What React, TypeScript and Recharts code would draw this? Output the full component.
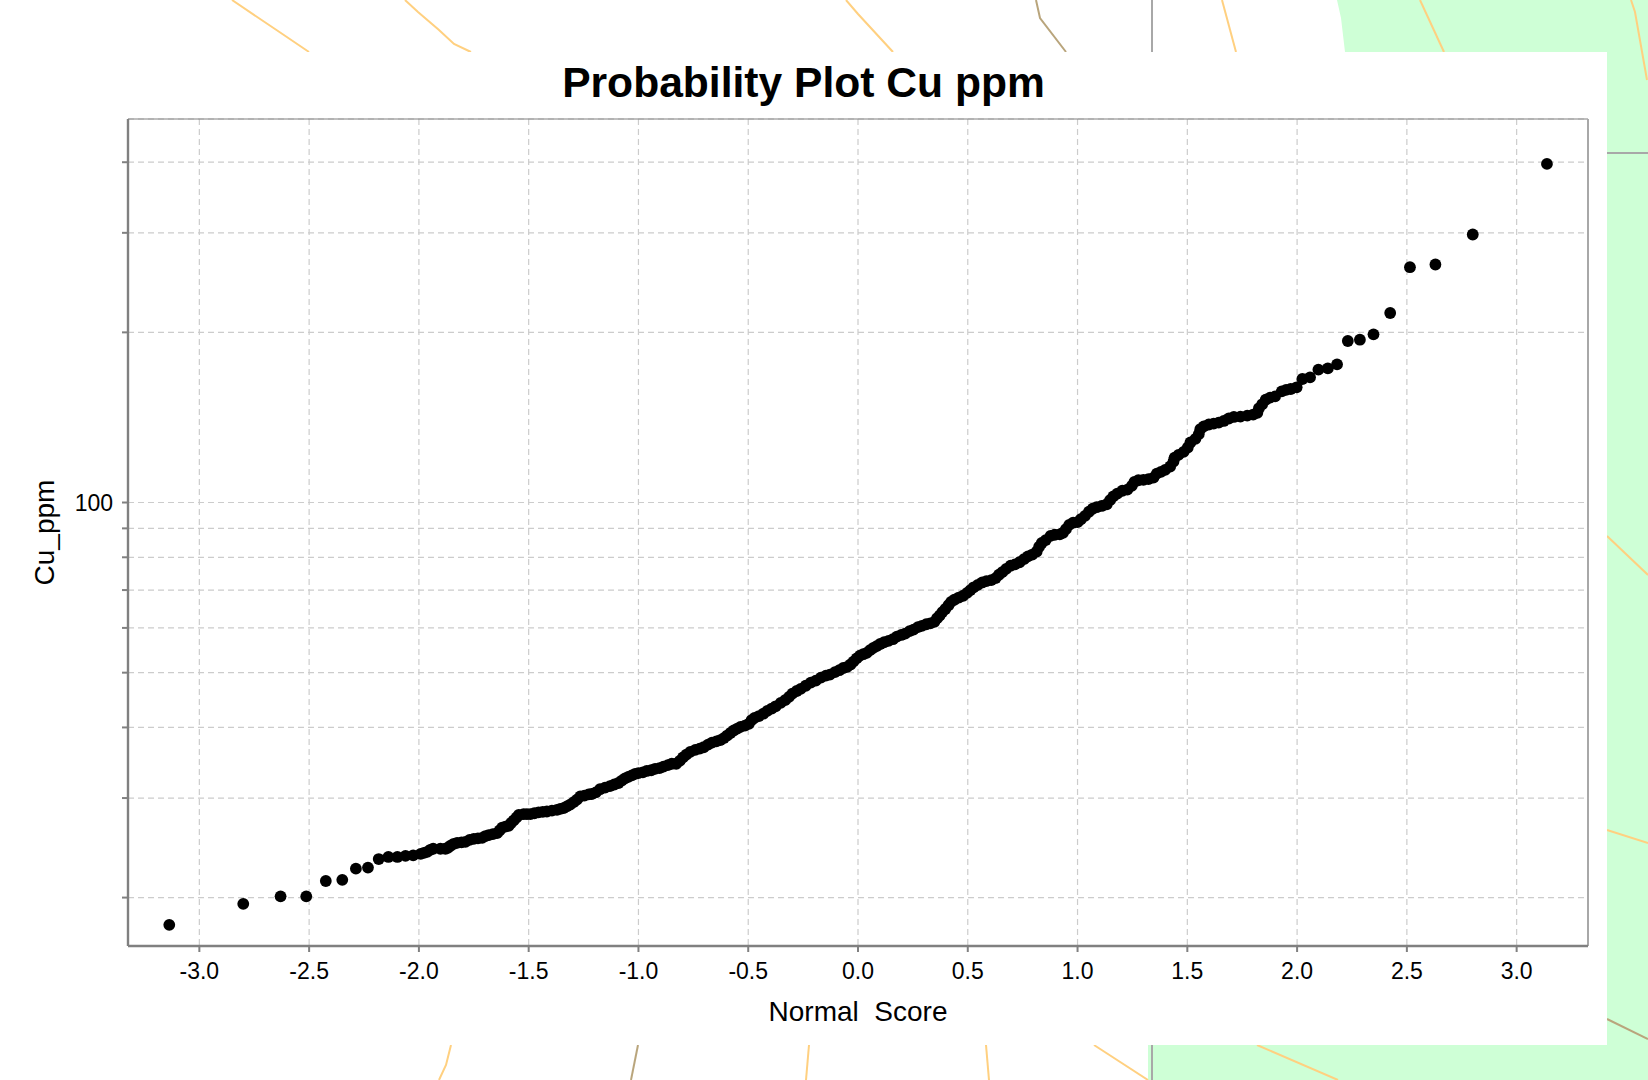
import { ScatterChart, Scatter, XAxis, YAxis, CartesianGrid, ReferenceLine } from "recharts";

const FONT = '"Liberation Sans", Arial, sans-serif';

const xTicks = [-3, -2.5, -2, -1.5, -1, -0.5, 0, 0.5, 1, 1.5, 2, 2.5, 3];
const yTicks = [20, 30, 40, 50, 60, 70, 80, 90, 100, 200, 300, 400];

const normalScores = [
  -3.137, -2.8, -2.63, -2.513, -2.424, -2.349, -2.287, -2.232, -2.183, -2.139,
  -2.098, -2.061, -2.026, -1.992, -1.977, -1.962, -1.948, -1.935, -1.902, -1.879,
  -1.868, -1.856, -1.841, -1.826, -1.806, -1.788, -1.769, -1.75, -1.731, -1.712,
  -1.697, -1.682, -1.663, -1.644, -1.632, -1.621, -1.606, -1.591, -1.58, -1.568,
  -1.556, -1.545, -1.523, -1.508, -1.492, -1.474, -1.455, -1.436, -1.417, -1.394,
  -1.371, -1.356, -1.341, -1.326, -1.311, -1.295, -1.28, -1.265, -1.246, -1.227,
  -1.213, -1.194, -1.175, -1.152, -1.13, -1.11, -1.091, -1.076, -1.061, -1.046,
  -1.03, -1.015, -1.0, -0.98, -0.962, -0.942, -0.924, -0.904, -0.886, -0.866,
  -0.848, -0.828, -0.812, -0.797, -0.782, -0.764, -0.741, -0.721, -0.703, -0.683,
  -0.665, -0.645, -0.627, -0.611, -0.596, -0.581, -0.566, -0.55, -0.535, -0.515,
  -0.497, -0.485, -0.471, -0.451, -0.431, -0.413, -0.393, -0.375, -0.352, -0.332,
  -0.314, -0.299, -0.279, -0.261, -0.238, -0.215, -0.192, -0.169, -0.146, -0.128,
  -0.105, -0.085, -0.067, -0.049, -0.034, -0.021, -0.006, 0.009, 0.024, 0.04,
  0.055, 0.07, 0.085, 0.101, 0.119, 0.139, 0.159, 0.177, 0.197, 0.215,
  0.235, 0.253, 0.273, 0.291, 0.311, 0.329, 0.348, 0.36, 0.372, 0.384,
  0.398, 0.412, 0.424, 0.439, 0.459, 0.479, 0.497, 0.512, 0.527, 0.546,
  0.566, 0.585, 0.607, 0.627, 0.642, 0.657, 0.675, 0.695, 0.715, 0.736,
  0.756, 0.774, 0.794, 0.814, 0.825, 0.837, 0.855, 0.877, 0.896, 0.919,
  0.934, 0.947, 0.962, 0.98, 1.0, 1.015, 1.034, 1.052, 1.069, 1.087,
  1.11, 1.133, 1.148, 1.163, 1.181, 1.204, 1.227, 1.247, 1.259, 1.277,
  1.3, 1.323, 1.346, 1.361, 1.38, 1.399, 1.422, 1.437, 1.442, 1.46,
  1.483, 1.502, 1.514, 1.537, 1.552, 1.559, 1.575, 1.598, 1.62, 1.643,
  1.666, 1.689, 1.712, 1.742, 1.773, 1.8, 1.819, 1.826, 1.841, 1.857,
  1.877, 1.9, 1.93, 1.95, 1.971, 1.998, 2.024, 2.059, 2.097, 2.14,
  2.182, 2.231, 2.286, 2.348, 2.424, 2.514, 2.63, 2.8, 3.138,
];

const cuPpm = [
  17.9, 19.5, 20.1, 20.1, 21.4, 21.5, 22.5, 22.6, 23.4, 23.6,
  23.6, 23.7, 23.75, 23.9, 24.0, 24.1, 24.3, 24.4, 24.4, 24.4,
  24.5, 24.7, 24.9, 25.0, 25.05, 25.1, 25.3, 25.4, 25.45, 25.5,
  25.7, 25.8, 25.9, 26.0, 26.3, 26.6, 26.7, 26.8, 27.1, 27.4,
  27.7, 28.0, 28.1, 28.1, 28.1, 28.2, 28.3, 28.35, 28.4, 28.5,
  28.6, 28.7, 28.8, 29.0, 29.2, 29.5, 29.8, 30.2, 30.3, 30.45,
  30.5, 30.7, 31.1, 31.3, 31.5, 31.7, 31.9, 32.2, 32.5, 32.7,
  32.9, 33.1, 33.2, 33.3, 33.5, 33.6, 33.8, 33.9, 34.1, 34.3,
  34.5, 34.5, 34.9, 35.4, 35.8, 36.2, 36.5, 36.7, 36.9, 37.3,
  37.6, 37.8, 38.0, 38.3, 38.7, 39.1, 39.5, 39.8, 40.1, 40.3,
  40.6, 41.2, 41.6, 41.9, 42.3, 42.8, 43.2, 43.6, 44.2, 44.7,
  45.3, 45.9, 46.4, 46.8, 47.4, 48.0, 48.4, 49.0, 49.4, 49.6,
  50.1, 50.5, 50.96, 51.2, 51.7, 52.3, 53.0, 53.6, 53.9, 54.2,
  54.8, 55.3, 55.7, 56.2, 56.6, 56.9, 57.3, 57.9, 58.3, 58.6,
  59.2, 59.6, 60.2, 60.5, 60.9, 61.1, 61.5, 62.4, 63.1, 64.0,
  64.8, 65.8, 66.7, 67.3, 67.9, 68.4, 69.2, 70.0, 70.8, 71.5,
  72.2, 72.6, 72.9, 73.5, 74.5, 75.3, 76.3, 77.3, 77.7, 78.4,
  79.4, 80.3, 80.9, 81.9, 83.5, 84.8, 85.8, 87.3, 87.7, 87.8,
  88.4, 89.7, 91.3, 92.1, 92.3, 93.4, 94.7, 96.3, 97.5, 98.1,
  98.6, 99.3, 100.95, 102.5, 103.7, 104.9, 105.4, 107.0, 108.8, 109.5,
  109.7, 110.0, 110.7, 112.5, 113.3, 114.2, 115.8, 118.2, 120.1, 121.4,
  122.9, 125.1, 127.7, 129.6, 132.1, 134.8, 136.4, 137.4, 137.9, 138.5,
  139.4, 140.8, 141.7, 141.9, 142.5, 143.1, 144.1, 146.8, 149.2, 152.0,
  153.3, 154.1, 157.3, 158.2, 158.8, 159.9, 165.4, 166.5, 171.8, 172.7,
  175.6, 193.1, 194.1, 198.4, 216.4, 260.8, 263.7, 298.0, 397.2,
];

const points = normalScores.map((x, i) => ({ x, y: cuPpm[i] }));

// the map sheet showing round the white plot panel
const orange = "#ffd080";
const brown = "#b9a57c";
const mapLines = [
  { c: orange, d: "M232 0 L275 29 L309 52" },
  { c: orange, d: "M405 0 L418 12 L439 30 L454 44 L471 52" },
  { c: orange, d: "M846 0 L858 14 L893 52" },
  { c: brown, d: "M1036 0 L1040 18 L1066 52" },
  { c: orange, d: "M1222 0 L1236 52" },
  { c: orange, d: "M1420 0 L1444 52" },
  { c: orange, d: "M1631 0 L1635 12 L1647 80" },
  { c: orange, d: "M1607 536 L1648 575" },
  { c: orange, d: "M1607 830 L1648 843" },
  { c: brown, d: "M1607 1019 L1648 1039" },
  { c: orange, d: "M1257 1045 L1338 1080" },
  { c: orange, d: "M1094 1045 L1148 1080" },
  { c: orange, d: "M451 1045 L446 1065 L439 1080" },
  { c: brown, d: "M638 1045 L631 1080" },
  { c: orange, d: "M809 1045 L806 1080" },
  { c: orange, d: "M986 1045 L989 1080" },
  { c: "#a8a8a8", d: "M1152 0 L1152 52" },
  { c: "#a8a8a8", d: "M1152 1045 L1152 1080" },
  { c: "#a8a8a8", d: "M1607 153 L1648 153" },
];

const Dot = (props: any) => <circle cx={props.cx} cy={props.cy} r={5.9} fill="#000" />;

export default function App() {
  return (
    <div style={{ position: "absolute", left: 0, top: 0, width: 1648, height: 1080, overflow: "hidden", background: "#fff", fontFamily: FONT }}>
      <svg width={1648} height={1080} style={{ position: "absolute", left: 0, top: 0 }}>
        <path d="M1337 0 L1341 18 L1345 52 L1607 52 L1607 1045 L1148 1045 L1148 1080 L1648 1080 L1648 0 Z" fill="#ceffd6" />
        {mapLines.map((l, i) => (
          <path key={i} d={l.d} fill="none" stroke={l.c} strokeWidth={2} />
        ))}
      </svg>
      <div style={{ position: "absolute", left: 0, top: 52, width: 1607, height: 993, background: "#fff" }} />
      <div style={{ position: "absolute", left: 0, top: 56, width: 1607, textAlign: "center", fontSize: 42.6, fontWeight: 700, lineHeight: "52px", color: "#000" }}>
        Probability Plot Cu ppm
      </div>
      <div style={{ position: "absolute", left: 0, top: 0 }}>
        <ScatterChart width={1648} height={1080} margin={{ top: 119, right: 60, bottom: 34, left: 28 }}>
          <CartesianGrid stroke="#cccccc" strokeWidth={1.2} strokeDasharray="6 4" />
          <XAxis
            type="number"
            dataKey="x"
            domain={[-3.325, 3.325]}
            ticks={xTicks}
            interval={0}
            allowDataOverflow
            height={100}
            tickFormatter={(v: number) => v.toFixed(1)}
            tick={{ fontSize: 23, fill: "#000", fontFamily: FONT }}
            tickSize={6}
            tickMargin={11}
            axisLine={{ stroke: "#808080", strokeWidth: 2.4 }}
            tickLine={{ stroke: "#808080", strokeWidth: 2 }}
          />
          <YAxis
            type="number"
            dataKey="y"
            scale="log"
            domain={[16.42, 477]}
            ticks={yTicks}
            interval={0}
            allowDataOverflow
            width={100}
            tickFormatter={(v: number) => (v === 100 ? "100" : "")}
            tick={{ fontSize: 23, fill: "#000", fontFamily: FONT }}
            tickSize={6}
            tickMargin={9}
            axisLine={{ stroke: "#808080", strokeWidth: 2.4 }}
            tickLine={{ stroke: "#808080", strokeWidth: 2 }}
            label={{ value: "Cu_ppm", angle: -90, position: "insideLeft", offset: 16, fontSize: 28, fill: "#000", fontFamily: FONT, textAnchor: "middle" }}
          />
          <ReferenceLine y={477} stroke="#808080" strokeWidth={1.2} />
          <ReferenceLine x={3.325} stroke="#a8a8a8" strokeWidth={2} />
          <Scatter data={points} fill="#000" shape={Dot} isAnimationActive={false} />
        </ScatterChart>
      </div>
      <div style={{ position: "absolute", left: 458, top: 995, width: 800, textAlign: "center", fontSize: 28, lineHeight: "34px", whiteSpace: "pre", color: "#000" }}>
        Normal  Score
      </div>
    </div>
  );
}
